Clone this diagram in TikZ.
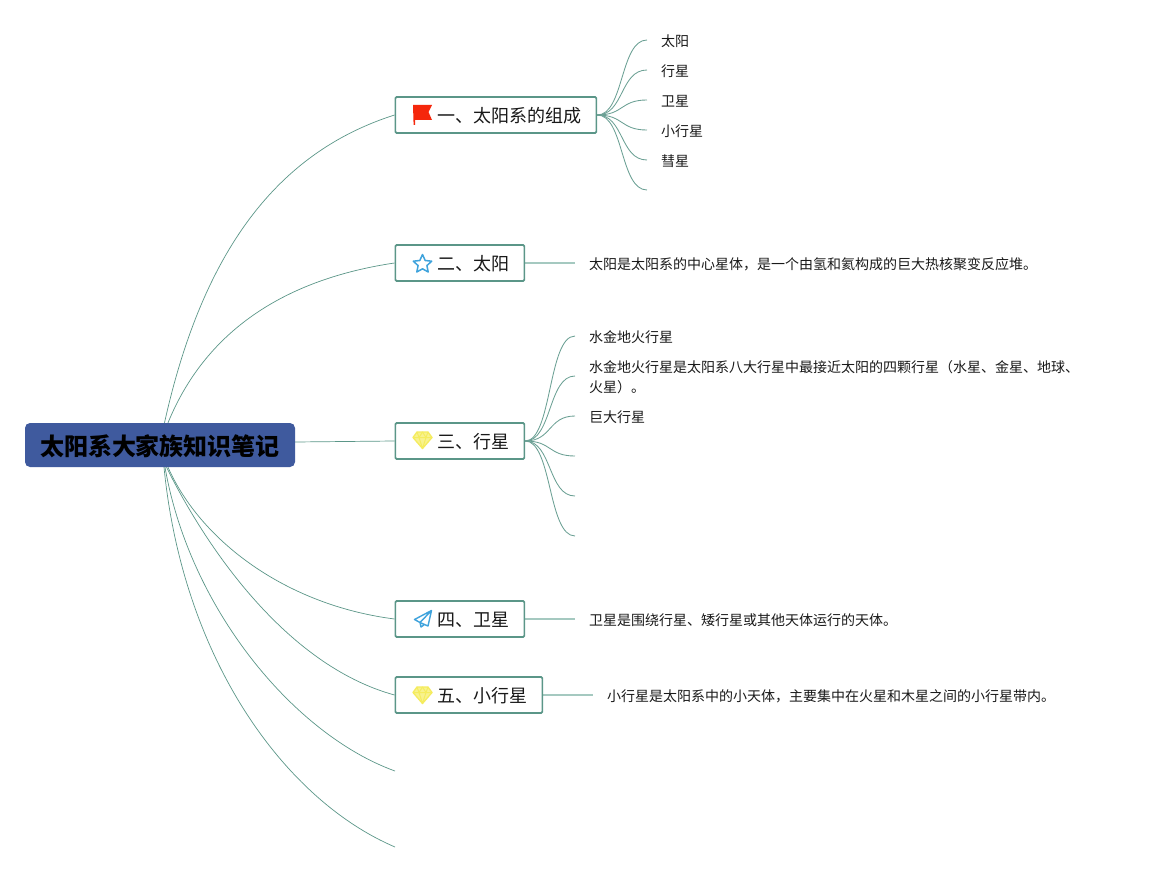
\documentclass[tikz,border=0pt]{standalone}
\usepackage{fontspec}
\setmainfont{Noto Sans CJK SC}
\usetikzlibrary{backgrounds}
\definecolor{edgegreen}{HTML}{5B9688}
\definecolor{palegreen}{HTML}{A5C9C0}
\definecolor{rootblue}{HTML}{3F5A9E}
\definecolor{flagred}{HTML}{F5270C}
\definecolor{iconblue}{HTML}{3FA3DC}
\definecolor{gemyellow}{HTML}{F5EC5E}
\tikzset{
  x=1pt,y=-1pt,
  rootbox/.style={draw=none,fill=rootblue,rounded corners=5pt,minimum width=270pt,minimum height=44pt,inner sep=0pt,
    text height=21pt,text depth=0.8pt,
    font=\fontsize{24}{28}\selectfont\bfseries,text=black},
  branch/.style={draw=edgegreen,line width=1.7pt,fill=white,rounded corners=1.2pt,minimum height=36pt,inner ysep=0pt,inner xsep=15pt,anchor=west,
    text height=16pt,text depth=0.4pt,
    font=\fontsize{18}{22}\selectfont,text=black!90},
  leaf/.style={anchor=west,inner sep=0pt,align=left,font=\fontsize{14}{20}\selectfont,text=black!90},
  mainlink/.style={draw=edgegreen,line width=0.7pt},
  sublink/.style={draw=edgegreen!90,line width=0.85pt},
  trunk/.style={draw=palegreen,line width=1.3pt},
  gem/.pic={
    \draw[gemyellow,fill=gemyellow!70,line width=1.3pt,line join=round]
      (-5.5,-8.5)--(5.5,-8.5)--(9.5,-3)--(0,8)--(-9.5,-3)--cycle;
    \draw[gemyellow,line width=1pt,line join=round]
      (-9.5,-3)--(9.5,-3) (-5.5,-8.5)--(-3.5,-3)--(0,-8.5)--(3.5,-3)--(5.5,-8.5) (-3.5,-3)--(0,8)--(3.5,-3);
  }
}
\newcommand{\iconskip}{\hspace*{27pt}}
\begin{document}
\begin{tikzpicture}
\useasboundingbox (0,0) rectangle (1149,872);
\node[rootbox] (root) at (160,445) {太阳系大家族知识笔记};

\node[branch] (b1) at (394.5,115) {\iconskip 一、太阳系的组成};
\node[branch] (b2) at (394.5,263) {\iconskip 二、太阳};
\node[branch] (b3) at (394.5,441) {\iconskip 三、行星};
\node[branch] (b4) at (394.5,619) {\iconskip 四、卫星};
\node[branch] (b5) at (394.5,695) {\iconskip 五、小行星};
\coordinate (e6) at (395,771);
\coordinate (e7) at (395,847);

% group 1 leaves
\node[leaf] (l11) at (661,41) {太阳};
\node[leaf] (l12) at (661,71) {行星};
\node[leaf] (l13) at (661,101) {卫星};
\node[leaf] (l14) at (661,131) {小行星};
\node[leaf] (l15) at (661,161) {彗星};
\coordinate (h11) at (647,40);
\coordinate (h12) at (647,70);
\coordinate (h13) at (647,100);
\coordinate (h14) at (647,130);
\coordinate (h15) at (647,160);
\coordinate (h16) at (647,190);

\node[leaf] (l2) at (589,264) {太阳是太阳系的中心星体，是一个由氢和氦构成的巨大热核聚变反应堆。};
\coordinate (h2) at (575,263);

\node[leaf] (l31) at (589,337) {水金地火行星};
\node[leaf] (l32) at (589,377) {水金地火行星是太阳系八大行星中最接近太阳的四颗行星（水星、金星、地球、\\火星）。};
\node[leaf] (l33) at (589,417) {巨大行星};
\coordinate (h31) at (575,336);
\coordinate (h32) at (575,376);
\coordinate (h33) at (575,416);
\coordinate (h34) at (575,456);
\coordinate (h35) at (575,496);
\coordinate (h36) at (575,536);

\node[leaf] (l4) at (589,620) {卫星是围绕行星、矮行星或其他天体运行的天体。};
\coordinate (h4) at (575,619);

\node[leaf] (l5) at (607,696) {小行星是太阳系中的小天体，主要集中在火星和木星之间的小行星带内。};
\coordinate (h5) at (593,695);

\begin{pgfonlayer}{background}
  \draw[mainlink] ([xshift=4.5pt]root.north) .. controls (205,240) and (285,150) .. (b1.west);
  \draw[mainlink] ([xshift=8pt]root.north) .. controls (210,320) and (300,277) .. (b2.west);
  \draw[mainlink] ([yshift=3pt]root.east) -- (b3.west);
  \draw[mainlink] ([xshift=8pt]root.south) .. controls (200,540) and (285,605) .. (b4.west);
  \draw[mainlink] ([xshift=6.5pt]root.south) .. controls (205,545) and (285,665) .. (b5.west);
  \draw[mainlink] ([xshift=5pt]root.south) .. controls (190,610) and (295,735) .. (e6);
  \draw[mainlink] ([xshift=4pt]root.south) .. controls (183,660) and (285,800) .. (e7);
  \foreach \t in {h11,h12,h13,h14,h15,h16}
    \draw[sublink] (b1.east) .. controls (624,115) and (620,0 |- \t) .. (\t);
  \foreach \t in {h31,h32,h33,h34,h35,h36}
    \draw[sublink] (b3.east) .. controls (552,441) and (548,0 |- \t) .. (\t);
  \draw[trunk] (b2.east) -- (h2);
  \draw[trunk] (b4.east) -- (h4);
  \draw[trunk] (b5.east) -- (h5);
\end{pgfonlayer}

% icons
\fill[flagred] (413,105)--(432,105)--(428.5,112)--(432,120)--(415,120)--(415,125)--(413.6,125)--cycle;
\draw[iconblue,line width=1.5pt,line join=round]
  (422.5,254.5)--(425.2,260.5)--(431.7,261.2)--(426.9,265.6)--(428.2,272)--(422.5,268.8)--(416.8,272)--(418.1,265.6)--(413.3,261.2)--(419.8,260.5)--cycle;
\pic at (422.5,440.5) {gem};
\pic at (422.5,695.5) {gem};
\draw[iconblue,line width=1.4pt,line join=round]
  (431.5,610.5)--(414.5,619.5)--(420,622.5)--cycle
  (431.5,610.5)--(428,626)--(420,622.5)--(421,627)--(424.5,624.5);
\end{tikzpicture}
\end{document}
